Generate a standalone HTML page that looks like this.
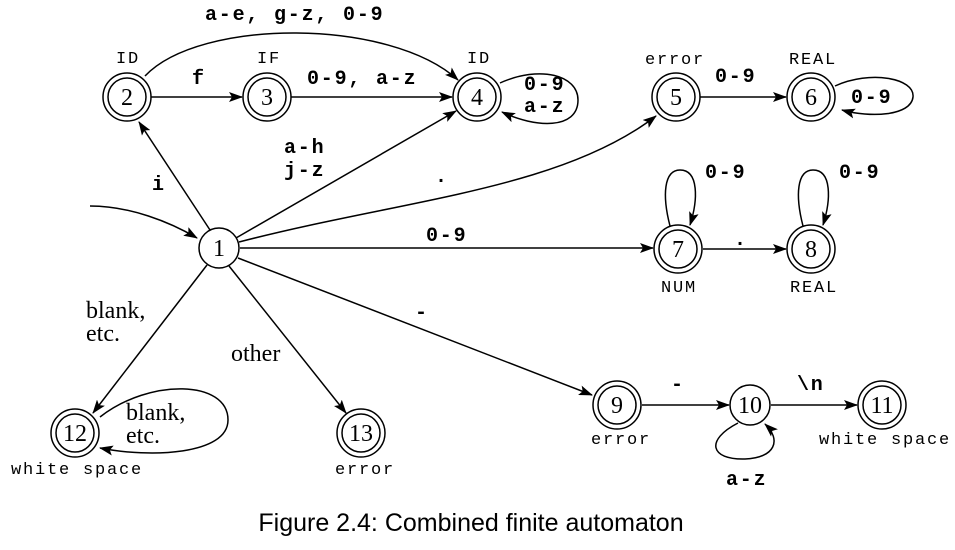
<!DOCTYPE html>
<html><head><meta charset="utf-8"><style>
html,body{margin:0;padding:0;background:#fff;}
svg{display:block;}
.n{font-family:"Liberation Serif",serif;font-size:24px;text-anchor:middle;}
.e{font-family:"Liberation Mono",monospace;font-size:20px;font-weight:bold;letter-spacing:1.8px;}
.a{font-family:"Liberation Mono",monospace;font-size:17px;text-anchor:middle;letter-spacing:1.8px;}
.s{font-family:"Liberation Serif",serif;font-size:24px;}
</style></head><body>
<svg width="955" height="550" viewBox="0 0 955 550" xmlns="http://www.w3.org/2000/svg">
<defs><marker id="ar" markerWidth="14" markerHeight="10" refX="13" refY="5" orient="auto" markerUnits="userSpaceOnUse"><path d="M0,0 L14,5 L0,10 L3,5 z" fill="#000"/></marker></defs>
<g fill="none" stroke="#000" stroke-width="1.5">
<circle cx="219" cy="248" r="20"/>
<circle cx="750" cy="405" r="20"/>
<g>
<circle cx="127" cy="97" r="24"/><circle cx="127" cy="97" r="19"/>
<circle cx="267" cy="97" r="24"/><circle cx="267" cy="97" r="19"/>
<circle cx="477" cy="97" r="24"/><circle cx="477" cy="97" r="19"/>
<circle cx="676" cy="97" r="24"/><circle cx="676" cy="97" r="19"/>
<circle cx="811" cy="97" r="24"/><circle cx="811" cy="97" r="19"/>
<circle cx="678" cy="249" r="24"/><circle cx="678" cy="249" r="19"/>
<circle cx="811" cy="249" r="24"/><circle cx="811" cy="249" r="19"/>
<circle cx="617" cy="405" r="24"/><circle cx="617" cy="405" r="19"/>
<circle cx="882" cy="405" r="24"/><circle cx="882" cy="405" r="19"/>
<circle cx="75" cy="433" r="24"/><circle cx="75" cy="433" r="19"/>
<circle cx="361" cy="433" r="24"/><circle cx="361" cy="433" r="19"/>
</g>
<g marker-end="url(#ar)">
<path d="M151,97 L242,97"/>
<path d="M291,97 L452,97"/>
<path d="M145,76 C200,18 390,18 458,80"/>
<path d="M210,230 L139,122"/>
<path d="M236,238 L456,111"/>
<path d="M239,242 C400,200 560,190 656,116"/>
<path d="M240,248 L653,248"/>
<path d="M238,258 L592,395"/>
<path d="M207,265 L93,413"/>
<path d="M229,266 L346,413"/>
<path d="M700,97 L786,97"/>
<path d="M835,86 C870,70 915,78 913,97 C911,116 870,118 842,110"/>
<path d="M703,249 L786,249"/>
<path d="M670,226 C662,195 664,170 680,170 C699,170 698,200 690,225"/>
<path d="M803,226 C795,195 797,170 813,170 C832,170 831,200 823,225"/>
<path d="M642,405 L729,405"/>
<path d="M771,405 L857,405"/>
<path d="M738,423 C705,440 710,460 745,459 C775,458 782,440 765,424"/>
<path d="M100,417 C150,378 228,380 228,420 C228,455 150,458 100,448"/>
<path d="M500,83 C540,65 578,75 578,100 C578,130 535,128 502,112"/>
<path d="M90,206 C130,206 170,222 197,238"/>
</g>
</g>
<g fill="#000">
<text class="n" x="127" y="105">2</text>
<text class="n" x="267" y="105">3</text>
<text class="n" x="477" y="105">4</text>
<text class="n" x="676" y="105">5</text>
<text class="n" x="811" y="105">6</text>
<text class="n" x="219" y="256">1</text>
<text class="n" x="678" y="257">7</text>
<text class="n" x="811" y="257">8</text>
<text class="n" x="617" y="413">9</text>
<text class="n" x="750" y="413">10</text>
<text class="n" x="882" y="413">11</text>
<text class="n" x="75" y="441">12</text>
<text class="n" x="361" y="441">13</text>

<text class="e" x="205" y="20">a-e, g-z, 0-9</text>
<text class="e" x="192" y="84">f</text>
<text class="e" x="307" y="84">0-9, a-z</text>
<text class="e" x="152" y="190">i</text>
<text class="e" x="284" y="153">a-h</text>
<text class="e" x="284" y="176">j-z</text>
<text class="e" x="435" y="182">.</text>
<text class="e" x="426" y="241">0-9</text>
<text class="e" x="415" y="318">-</text>
<text class="e" x="524" y="90">0-9</text>
<text class="e" x="524" y="112">a-z</text>
<text class="e" x="715" y="82">0-9</text>
<text class="e" x="851" y="103">0-9</text>
<text class="e" x="705" y="178">0-9</text>
<text class="e" x="839" y="178">0-9</text>
<text class="e" x="734" y="245">.</text>
<text class="e" x="671" y="390">-</text>
<text class="e" x="797" y="390">\n</text>
<text class="e" x="726" y="485">a-z</text>

<text class="s" x="86" y="318">blank,</text>
<text class="s" x="86" y="341">etc.</text>
<text class="s" x="231" y="361">other</text>
<text class="s" x="126" y="420">blank,</text>
<text class="s" x="126" y="443">etc.</text>

<text class="a" x="128" y="63">ID</text>
<text class="a" x="269" y="63">IF</text>
<text class="a" x="479" y="63">ID</text>
<text class="a" x="675" y="64">error</text>
<text class="a" x="813" y="64">REAL</text>
<text class="a" x="679" y="292">NUM</text>
<text class="a" x="814" y="292">REAL</text>
<text class="a" x="621" y="444">error</text>
<text class="a" x="885" y="444">white space</text>
<text class="a" x="77" y="474">white space</text>
<text class="a" x="365" y="474">error</text>

<text x="471" y="531" text-anchor="middle" style="font-family:'Liberation Sans',sans-serif;font-size:25px;">Figure 2.4: Combined finite automaton</text>
</g>
</svg>
</body></html>
